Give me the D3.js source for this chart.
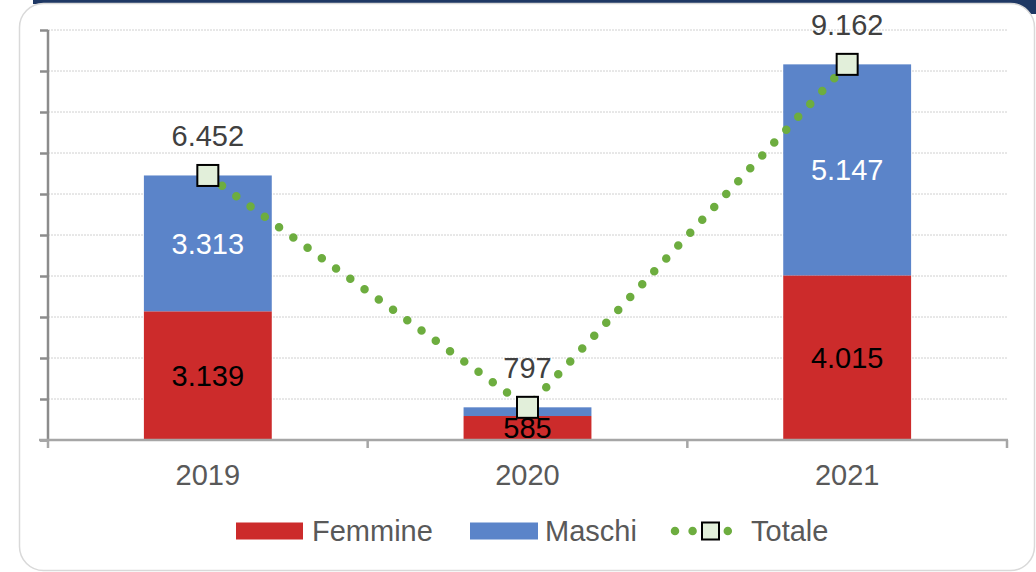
<!DOCTYPE html>
<html><head><meta charset="utf-8">
<script src="https://cdn.jsdelivr.net/npm/d3@7"></script>
<style>html,body{margin:0;padding:0;background:#fff;}svg{display:block;font-family:"Liberation Sans",Arial,sans-serif;}</style>
</head><body>
<svg id="c" width="1036" height="572"></svg>
<script>
const categories = ["2019", "2020", "2021"];
const femmine = [3139, 585, 4015];
const maschi = [3313, 212, 5147];
const totale = [6452, 797, 9162];
const yTicks = [0,1000,2000,3000,4000,5000,6000,7000,8000,9000,10000];
const legendLabels = ["Femmine", "Maschi", "Totale"];
const fmt = v => d3.format(",")(v).replace(/,/g, ".");
const FS = 29;

const svg = d3.select("#c");
// background frame
svg.append("rect").attr("x",33).attr("y",0).attr("width",1003).attr("height",4).attr("fill","#1f3864");
svg.append("rect").attr("x",1000).attr("y",0).attr("width",36).attr("height",14).attr("fill","#1f3864");
svg.append("rect").attr("x",19.5).attr("y",3.5).attr("width",1015).attr("height",567).attr("rx",24).attr("ry",24)
  .attr("fill","#fff").attr("stroke","#d9d9d9").attr("stroke-width",1.5);

const x = d3.scaleBand().domain(categories).range([48,1007]).paddingInner(0.6).paddingOuter(0.3);
const y = d3.scaleLinear().domain([0,10000]).range([440,30]);

// gridlines
svg.append("g").selectAll("line").data(yTicks.slice(1)).join("line")
  .attr("x1",48).attr("x2",1007).attr("y1",d=>y(d)).attr("y2",d=>y(d))
  .attr("stroke","#d0d0d0").attr("stroke-width",1).attr("stroke-dasharray","2 1");

// bars
const red="#cc2b2b", blue="#5b84c9";
svg.append("g").selectAll("rect").data(categories).join("rect")
  .attr("x",d=>x(d)).attr("width",x.bandwidth())
  .attr("y",(d,i)=>y(femmine[i])).attr("height",(d,i)=>y(0)-y(femmine[i])).attr("fill",red);
svg.append("g").selectAll("rect").data(categories).join("rect")
  .attr("x",d=>x(d)).attr("width",x.bandwidth())
  .attr("y",(d,i)=>y(femmine[i]+maschi[i])).attr("height",(d,i)=>y(femmine[i])-y(femmine[i]+maschi[i])).attr("fill",blue);

// y axis
const yAxis = d3.axisLeft(y).tickValues(yTicks).tickSize(8).tickFormat("");
const ga = svg.append("g").attr("transform","translate(48,0)").call(yAxis);
ga.select(".domain").attr("stroke","#8c8c8c").attr("stroke-width",2.5).attr("d","M0,30V440");
ga.selectAll(".tick line").attr("stroke","#8c8c8c").attr("stroke-width",2.5);

// x axis
const xb = svg.append("g");
xb.append("line").attr("x1",39).attr("x2",1008).attr("y1",440).attr("y2",440).attr("stroke","#a6a6a6").attr("stroke-width",2.5);
const bounds = [48].concat(categories.map(c=>x(c)+x.bandwidth()+x.step()*0.3));
xb.selectAll(".bt").data(bounds).join("line").attr("class","bt")
  .attr("x1",d=>d).attr("x2",d=>d).attr("y1",440).attr("y2",448).attr("stroke","#a6a6a6").attr("stroke-width",2.5);
xb.selectAll("text").data(categories).join("text")
  .attr("x",d=>x(d)+x.bandwidth()/2).attr("y",485).attr("text-anchor","middle")
  .attr("font-size",FS).attr("fill","#595959").text(d=>d);

// totale line
const cx = d => x(d)+x.bandwidth()/2;
const line = d3.line().x((d,i)=>cx(categories[i])).y(d=>y(d));
svg.append("path").datum(totale).attr("d",line).attr("fill","none")
  .attr("stroke","#6dad3f").attr("stroke-width",8.5).attr("stroke-linecap","round").attr("stroke-dasharray","0 17.6");

// data labels
svg.append("g").selectAll("text").data(categories).join("text")
  .attr("x",d=>cx(d)).attr("y",(d,i)=>(y(0)+y(femmine[i]))/2).attr("dy","0.36em")
  .attr("text-anchor","middle").attr("font-size",FS).attr("fill","#000").text((d,i)=>fmt(femmine[i]));
svg.append("g").selectAll("text").data(categories.filter((d,i)=>maschi[i]>1000)).join("text")
  .attr("x",d=>cx(d)).attr("y",d=>{const i=categories.indexOf(d);return (y(femmine[i])+y(femmine[i]+maschi[i]))/2;}).attr("dy","0.36em")
  .attr("text-anchor","middle").attr("font-size",FS).attr("fill","#fff").text(d=>fmt(maschi[categories.indexOf(d)]));

// markers
svg.append("g").selectAll("rect").data(categories).join("rect")
  .attr("x",d=>cx(d)-10.5).attr("y",(d,i)=>y(totale[i])-10.5).attr("width",21).attr("height",21)
  .attr("fill","#e2efda").attr("stroke","#000").attr("stroke-width",2);
svg.append("g").selectAll("text").data(categories).join("text")
  .attr("x",d=>cx(d)).attr("y",(d,i)=>y(totale[i])-29)
  .attr("text-anchor","middle").attr("font-size",FS).attr("fill","#404040").text((d,i)=>fmt(totale[i]));

// legend
const lg = svg.append("g");
const ly = 531;
lg.append("rect").attr("x",236).attr("y",ly-8.5).attr("width",67).attr("height",17).attr("fill",red);
lg.append("text").attr("x",312).attr("y",ly).attr("dy","0.36em").attr("font-size",FS).attr("fill","#595959").text(legendLabels[0]);
lg.append("rect").attr("x",470).attr("y",ly-8.5).attr("width",68).attr("height",17).attr("fill",blue);
lg.append("text").attr("x",545).attr("y",ly).attr("dy","0.36em").attr("font-size",FS).attr("fill","#595959").text(legendLabels[1]);
lg.append("line").attr("x1",675).attr("x2",732).attr("y1",ly).attr("y2",ly).attr("stroke","#6dad3f").attr("stroke-width",8.5)
  .attr("stroke-linecap","round").attr("stroke-dasharray","0 17.6");
lg.append("rect").attr("x",702).attr("y",ly-8.5).attr("width",17).attr("height",17).attr("fill","#e2efda").attr("stroke","#000").attr("stroke-width",2);
lg.append("text").attr("x",751).attr("y",ly).attr("dy","0.36em").attr("font-size",FS).attr("fill","#595959").text(legendLabels[2]);
</script>
</body></html>
